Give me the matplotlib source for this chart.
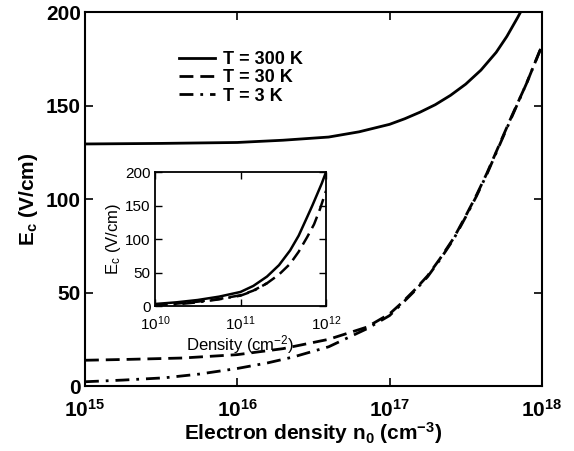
import matplotlib
matplotlib.use("Agg")
import matplotlib.pyplot as plt
import numpy as np

plt.rcParams['font.family'] = ['Liberation Sans', 'DejaVu Sans']

# main panel: log10 of electron density n0 (cm^-3) and Ec (V/cm)
logn_300 = [15.0, 15.5, 16.0, 16.3, 16.6, 16.8, 17.0, 17.1, 17.2, 17.3, 17.4, 17.5,
            17.6, 17.7, 17.77, 17.84, 17.86]
ec_300 = [129.5, 129.8, 130.3, 131.5, 133.2, 136.0, 140.0, 143.0, 146.5, 150.5, 155.5, 161.5,
          169.0, 178.5, 187.0, 197.0, 200.0]

logn_30 = [15.0, 15.3, 15.64, 16.0, 16.3, 16.6, 16.85, 17.0, 17.08, 17.16, 17.25, 17.33,
           17.42, 17.5, 17.57, 17.64, 17.72, 17.8, 17.9, 18.0]
ec_30 = [13.8, 14.3, 15.0, 16.8, 20.0, 25.0, 31.5, 38.6, 44.5, 51.0, 59.0, 68.0,
         79.0, 91.0, 102.0, 114.0, 129.0, 144.0, 162.0, 182.0]

logn_3 = [15.0, 15.25, 15.52, 15.75, 16.0, 16.2, 16.37, 16.6, 16.85, 17.0, 17.08, 17.16,
          17.25, 17.33, 17.42, 17.5, 17.57, 17.64, 17.72, 17.8, 17.9, 18.0]
ec_3 = [2.3, 3.2, 4.4, 6.4, 9.4, 12.4, 15.6, 21.0, 30.6, 37.7, 44.0, 50.5,
        58.5, 67.5, 78.5, 90.5, 101.5, 113.5, 128.5, 143.5, 162.0, 182.0]

# inset: log10 of sheet density (cm^-2)
logd_300 = [10.0, 10.25, 10.5, 10.75, 11.0, 11.15, 11.31, 11.45, 11.58, 11.68, 11.78,
            11.84, 11.89, 11.95, 12.0]
ec_in_300 = [3.0, 5.5, 9.0, 14.0, 21.0, 30.0, 44.0, 61.0, 83.0, 105.0, 133.0,
             150.0, 165.0, 183.0, 200.0]

logd_30 = [10.0, 10.25, 10.5, 10.75, 11.0, 11.15, 11.31, 11.45, 11.58, 11.68, 11.78,
           11.86, 11.93, 12.0]
ec_in_30 = [1.5, 3.5, 6.5, 10.5, 16.0, 23.0, 34.0, 47.0, 63.0, 81.0, 103.0,
            122.0, 145.0, 172.0]

logd_3 = [10.0, 10.25, 10.5, 10.75, 11.0, 11.15, 11.31]
ec_in_3 = [0.5, 2.5, 5.5, 10.0, 15.5, 22.5, 34.0]

main_xticks = [15, 16, 17, 18]
inset_xticks = [10, 11, 12]
yticks = [0, 50, 100, 150, 200]

fig = plt.figure(figsize=(5.74, 4.51), dpi=100)
ax = fig.add_axes([0.148, 0.144, 0.796, 0.829])

lw = 2.0
ax.plot(10.0**np.array(logn_300), ec_300, color='black', lw=lw, label='T = 300 K')
ax.plot(10.0**np.array(logn_30), ec_30, color='black', lw=lw, dashes=(5, 2.5), label='T = 30 K')
ax.plot(10.0**np.array(logn_3), ec_3, color='black', lw=lw, dashes=(5, 2.5, 1, 2.5), label='T = 3 K')

ax.set_xscale('log')
ax.set_xlim(1e15, 1e18)
ax.set_ylim(0, 200)
ax.set_xticks([10.0**e for e in main_xticks])
ax.set_xticklabels([r'$\mathregular{10^{%d}}$' % e for e in main_xticks])
ax.minorticks_off()
ax.set_yticks(yticks)
ax.tick_params(direction='in', top=True, right=True, length=6, width=1.2,
               labelsize=15, pad=3)
ax.tick_params(axis='x', pad=9)
for lab in ax.get_xticklabels() + ax.get_yticklabels():
    lab.set_fontweight('bold')
for s in ax.spines.values():
    s.set_linewidth(1.5)
ax.set_xlabel(r'Electron density n$\mathregular{_0}$ (cm$\mathregular{^{-3}}$)',
              fontsize=15, fontweight='bold', labelpad=0)
ax.set_ylabel(r'E$\mathregular{_c}$ (V/cm)', fontsize=15, fontweight='bold', labelpad=4)

leg = ax.legend(loc='upper left', bbox_to_anchor=(0.17, 0.94), frameon=False,
                prop={'weight': 'bold', 'size': 13}, handlelength=2.0,
                handletextpad=0.45, labelspacing=0.08)

# inset
ins = fig.add_axes([0.270, 0.3215, 0.298, 0.297])
ins.plot(10.0**np.array(logd_300), ec_in_300, color='black', lw=1.8)
ins.plot(10.0**np.array(logd_30), ec_in_30, color='black', lw=1.8, dashes=(5, 2.5))
ins.plot(10.0**np.array(logd_3), ec_in_3, color='black', lw=1.8, dashes=(5, 2.5, 1, 2.5))
ins.set_xscale('log')
ins.set_xlim(1e10, 1e12)
ins.set_ylim(0, 200)
ins.set_xticks([10.0**e for e in inset_xticks])
ins.set_xticklabels([r'$\mathregular{10^{%d}}$' % e for e in inset_xticks])
ins.minorticks_off()
ins.set_yticks(yticks)
ins.tick_params(direction='in', top=True, right=True, length=5, width=1.0,
                labelsize=11, pad=3)
ins.tick_params(axis='x', pad=6)
for s in ins.spines.values():
    s.set_linewidth(1.3)
ins.set_xlabel(r'Density (cm$\mathregular{^{-2}}$)', fontsize=12, labelpad=0)
ins.set_ylabel(r'E$\mathregular{_c}$ (V/cm)', fontsize=12, labelpad=2)

fig.savefig('out.png', dpi=100)
